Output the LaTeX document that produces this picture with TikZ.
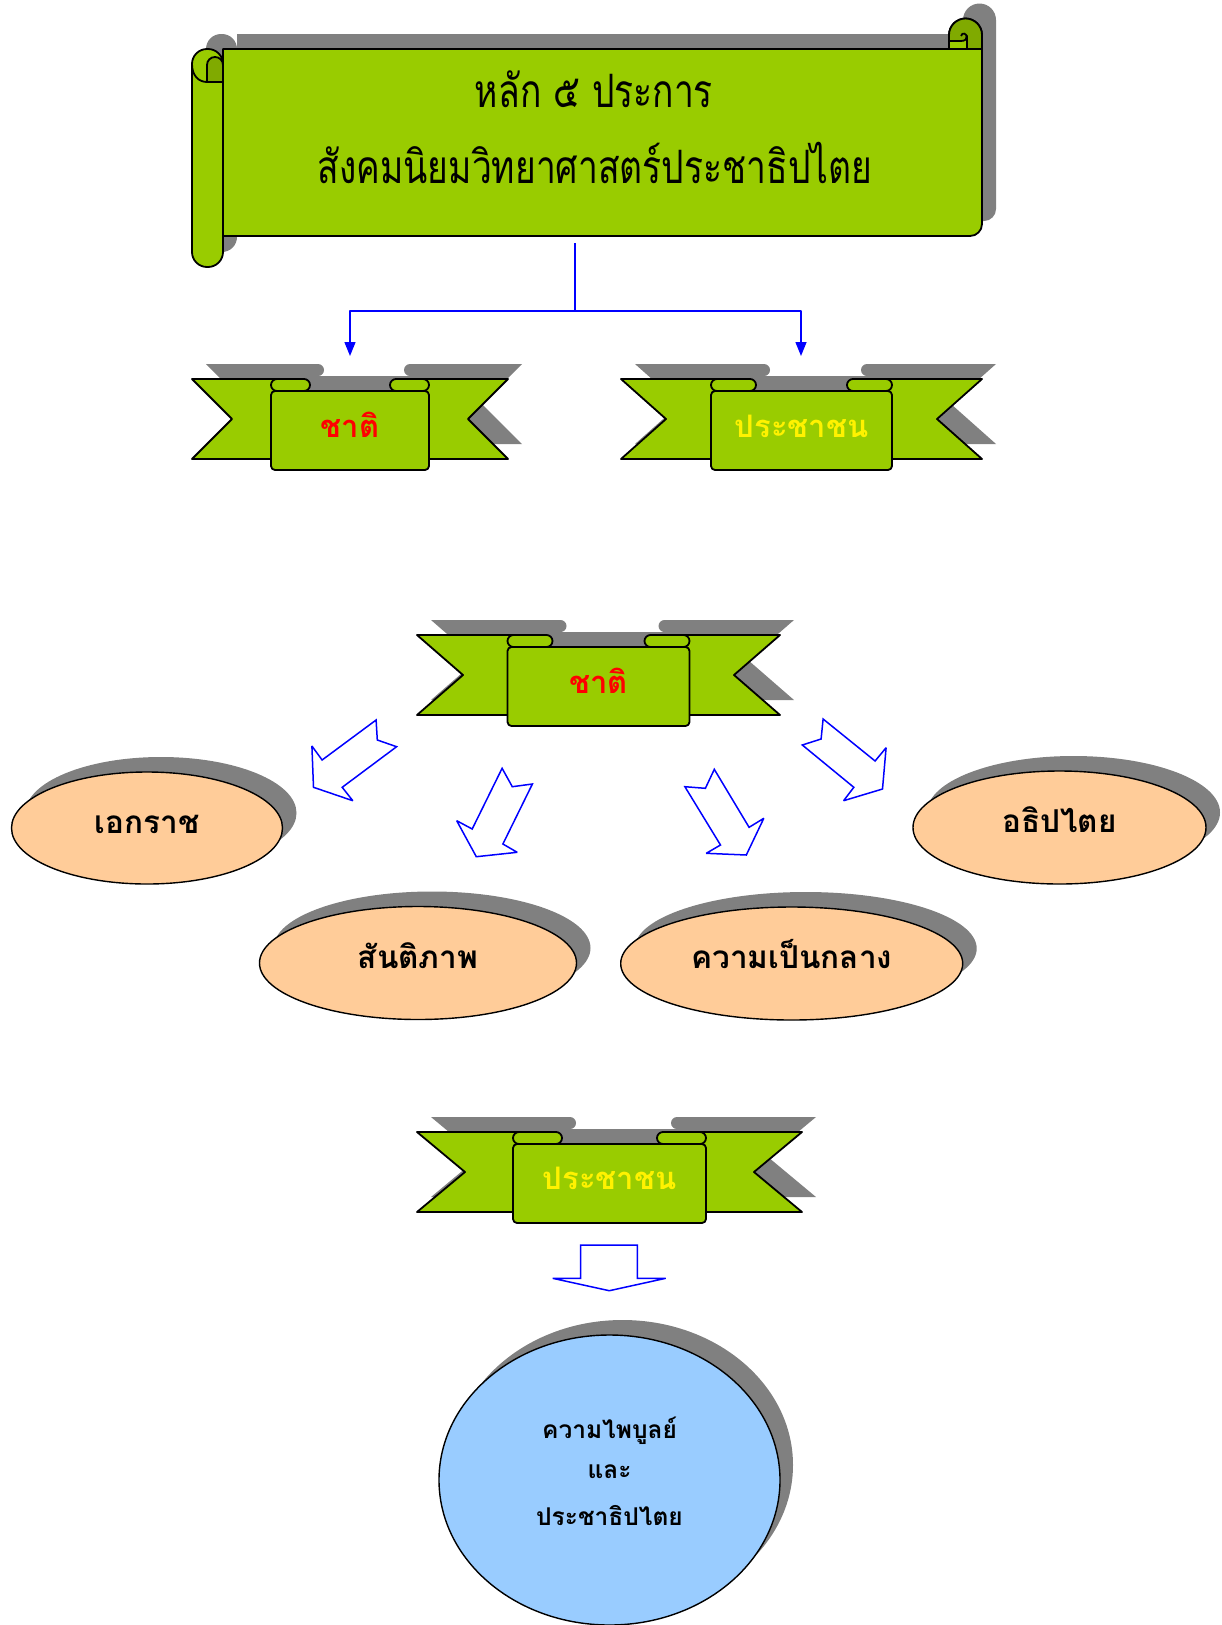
\documentclass[tikz,border=0pt]{standalone}
\usepackage{fontspec}
\newfontfamily\thai[Script=Thai]{Loma}
\usetikzlibrary{arrows.meta,shapes.geometric,shadows}
\definecolor{scrollgreen}{HTML}{99CC00}
\definecolor{curlgreen}{HTML}{80AA00}
\definecolor{shgray}{HTML}{808080}
\definecolor{peach}{HTML}{FFCC99}
\definecolor{skyblue}{HTML}{99CCFF}
\definecolor{flowblue}{HTML}{0000FF}
\tikzset{
  outline/.style={draw=black, line width=1.8pt},
  greenfill/.style={fill=scrollgreen, outline},
  flowline/.style={draw=flowblue, line width=1.4pt},
  flowtip/.style={-{Triangle[length=14pt,width=11pt]}},
  blockarrow/.style={draw=flowblue, line width=1.5pt, fill=white, line join=miter, miter limit=2.5},
  ovalnode/.style={ellipse, fill=peach, draw=black, line width=1.4pt, inner sep=0pt,
    text height=14pt, text depth=4pt,
    drop shadow={shadow xshift=14pt, shadow yshift=15pt, fill=shgray, opacity=1},
    font=\thai\bfseries\fontsize{31.5}{38}\selectfont},
  ribbontext/.style={font=\thai\bfseries\fontsize{31}{38}\selectfont, inner sep=0pt, anchor=base},
  titletext/.style={font=\thai\fontsize{46}{54}\selectfont, inner sep=0pt, anchor=base},
  goaltext/.style={font=\thai\bfseries\fontsize{24.5}{30}\selectfont, inner sep=0pt, anchor=base},
}
% #1 cx, #2 top, #3 half width, #4 panel half width, #5 tube length, #6 notch depth
\newcommand{\myribbon}[6]{%
  \begin{scope}[shift={(#1,#2)}]
    \begin{scope}[shift={(14,-15)}]
      \fill[shgray] (-#3,0) -- ({-#4+#5-6},0) -- ({-#4+#5-6},80) -- (-#3,80) -- ({-#3+#6},40) -- cycle;
      \fill[shgray] (#3,0) -- ({#4-#5+6},0) -- ({#4-#5+6},80) -- (#3,80) -- ({#3-#6},40) -- cycle;
      \fill[shgray, rounded corners=4] (-#4,12) rectangle (#4,91);
      \fill[shgray, rounded corners=6] (-#4,0) rectangle ({-#4+#5},12);
      \fill[shgray, rounded corners=6] (#4,0) rectangle ({#4-#5},12);
    \end{scope}
    \filldraw[greenfill] (-#3,0) -- ({-#4+#5-6},0) -- ({-#4+#5-6},80) -- (-#3,80) -- ({-#3+#6},40) -- cycle;
    \filldraw[greenfill] (#3,0) -- ({#4-#5+6},0) -- ({#4-#5+6},80) -- (#3,80) -- ({#3-#6},40) -- cycle;
    \filldraw[greenfill, rounded corners=4] (-#4,12) rectangle (#4,91);
    \filldraw[greenfill, rounded corners=6] (-#4,0) rectangle ({-#4+#5},12);
    \filldraw[greenfill, rounded corners=6] (#4,0) rectangle ({#4-#5},12);
  \end{scope}}
\newcommand{\scrollbody}{(223,49) -- (949,49) -- (949,35) arc[start angle=180,end angle=360,radius=16.5] -- (982,224) arc[start angle=0,end angle=90,radius=12] -- (223,236) -- cycle}
\begin{document}
\begin{tikzpicture}[x=1pt,y=-1pt,line join=round]
\useasboundingbox (0,0) rectangle (1221,1625);

% ---------- scroll ----------
\fill[shgray, shift={(14,-15)}] \scrollbody;
\fill[shgray, shift={(14,-15)}, rounded corners=15] (192,49) rectangle (223,267);
\filldraw[greenfill] \scrollbody;
\filldraw[fill=curlgreen, outline] (949,49) -- (949,35) arc[start angle=180,end angle=360,radius=16.5] -- (982,49) -- cycle;
\filldraw[greenfill] (949,49) -- (949,41) -- (961,41) .. controls (965,41) and (967,39) .. (967,36) -- (967,49) -- cycle;
\draw[outline] (967,38) .. controls (967,33) and (962,32) .. (961,36);
\filldraw[greenfill, rounded corners=15] (192,49) rectangle (223,267);
\filldraw[fill=curlgreen, outline] (207,82) -- (207,65) arc[start angle=180,end angle=360,radius=8] -- (223,82) -- cycle;
\draw[outline] (192,64) .. controls (192,76) and (199,82) .. (207,82) -- (223,82);
\node[titletext] (title1) at (594,107) {\scalebox{0.77}[1]{หลัก ๕ ประการ}};
\node[titletext] (title2) at (595,183) {\scalebox{0.77}[1]{สังคมนิยมวิทยาศาสตร์ประชาธิปไตย}};

% ---------- connectors from scroll ----------
\coordinate (scrollbot) at (575,243);
\coordinate (split) at (575,311);
\coordinate (r1in) at (350,356);
\coordinate (r2in) at (801,356);
\draw[flowline] (scrollbot) -- (split);
\draw[flowline, flowtip] (split) -| (r1in);
\draw[flowline, flowtip] (split) -| (r2in);

% ---------- ribbons ----------
\myribbon{350}{379}{158}{79}{39}{40}
\node[ribbontext, text=red] (nation1) at (350,437) {ชาติ};
\myribbon{801.5}{379}{180.5}{90.5}{45}{45}
\node[ribbontext, text=yellow] (people1) at (801.5,437) {ประชาชน};
\myribbon{598.5}{635}{181.5}{91}{45}{46}
\node[ribbontext, text=red] (nation2) at (598.5,693) {ชาติ};
\myribbon{609.5}{1132}{192.5}{96.5}{49}{48}
\node[ribbontext, text=yellow] (people2) at (609.5,1189) {ประชาชน};

% ---------- hollow arrows ----------
\draw[blockarrow] (376.1,720) -- (377.3,740) -- (396.6,746.7) -- (342.2,787.3) -- (352.8,800.7) -- (313.5,787.3) -- (311.9,746) -- (322.1,760) -- cycle;
\draw[blockarrow] (502.1,768.3) -- (512.3,786.7) -- (532.4,784) -- (502.9,844) -- (517.2,852.3) -- (476.3,856.7) -- (456.7,820.7) -- (472.2,829) -- cycle;
\draw[blockarrow] (714.3,769.3) -- (749.1,827.3) -- (763.8,818.3) -- (746.3,855) -- (706.2,853.3) -- (720.5,845) -- (684.9,786.7) -- (705.4,788.3) -- cycle;
\draw[blockarrow] (823.1,719) -- (875.1,761) -- (886.1,747.7) -- (882.5,789) -- (843.6,800.7) -- (853.8,787.3) -- (802.3,745) -- (821.1,739) -- cycle;

% ---------- ovals ----------
\node[ovalnode, minimum width=271pt, minimum height=112pt] (ekarat) at (147,828) {เอกราช};
\node[ovalnode, minimum width=293pt, minimum height=113pt] (athipatai) at (1059.5,827.5) {อธิปไตย};
\node[ovalnode, minimum width=317pt, minimum height=113pt] (santi) at (418,963) {สันติภาพ};
\node[ovalnode, minimum width=342pt, minimum height=113pt] (klang) at (791.7,963.5) {ความเป็นกลาง};

% ---------- down arrow ----------
\draw[blockarrow] (580.7,1245) -- (637.3,1245) -- (637.3,1278.3) -- (665.7,1278.3) -- (609.3,1290.7) -- (552.7,1278.3) -- (580.7,1278.3) -- cycle;

% ---------- goal circle ----------
\node[ellipse, fill=skyblue, draw=black, line width=1.4pt, inner sep=0pt,
  minimum width=341pt, minimum height=290pt,
  drop shadow={shadow xshift=13pt, shadow yshift=15pt, fill=shgray, opacity=1}] (goal) at (609.5,1480) {};
\node[goaltext] (goal1) at (609.5,1438) {ความไพบูลย์};
\node[goaltext] (goal2) at (609.5,1478) {และ};
\node[goaltext] (goal3) at (609.5,1525) {ประชาธิปไตย};
\end{tikzpicture}
\end{document}
